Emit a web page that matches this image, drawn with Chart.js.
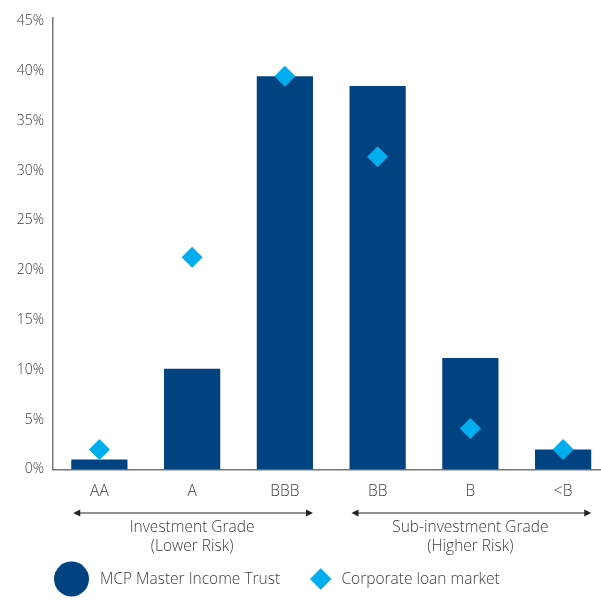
<!DOCTYPE html>
<html>
<head>
<meta charset="utf-8">
<script src="https://cdn.jsdelivr.net/npm/chart.js@4"></script>
<style>
html,body{margin:0;padding:0;background:#fff;overflow:hidden;}
#wrap{width:601px;height:600px;position:relative;overflow:hidden;}
#c{display:block;}
</style>
</head>
<body>
<div id="wrap"><canvas id="c" width="620" height="600" style="width:620px;height:600px"></canvas></div>
<script>
const categories = ['AA', 'A', 'BBB', 'BB', 'B', '<B'];
const mcpTrust = [1.0, 10.1, 39.5, 38.5, 11.2, 2.0];
const loanMarket = [2.0, 21.3, 39.5, 31.4, 4.1, 2.0];
const yTickValues = [0, 5, 10, 15, 20, 25, 30, 35, 40, 45];
const groupNames = [['Investment Grade', '(Lower Risk)'], ['Sub-investment Grade', '(Higher Risk)']];
const groupRanges = [[0, 2], [3, 5]];
const seriesNames = ['MCP Master Income Trust', 'Corporate loan market'];

const BAR = '#004381';
const DIA = '#00AEEF';
const TXT = '#3c3c3c';
const FONT = '"Open Sans", "Lato", sans-serif';
const FW = 300;
const FS = 14;
const FS2 = 15.5;

const overlay = {
  id: 'overlay',
  afterDraw(chart) {
    const ctx = chart.ctx;
    const xs = chart.scales.x;
    const meta = chart.getDatasetMeta(0);
    ctx.save();
    groupRanges.forEach((r, gi) => {
      const b0 = meta.data[r[0]], b1 = meta.data[r[1]];
      const x0 = b0.x - b0.width / 2 + 2;
      const x1 = b1.x + b1.width / 2;
      const y = 513;
      ctx.strokeStyle = '#222';
      ctx.fillStyle = '#222';
      ctx.lineWidth = 1;
      ctx.beginPath();
      ctx.moveTo(x0 + 3, y); ctx.lineTo(x1 - 3, y); ctx.stroke();
      ctx.beginPath();
      ctx.moveTo(x0, y); ctx.lineTo(x0 + 7, y - 3.5); ctx.lineTo(x0 + 7, y + 3.5); ctx.closePath(); ctx.fill();
      ctx.beginPath();
      ctx.moveTo(x1, y); ctx.lineTo(x1 - 7, y - 3.5); ctx.lineTo(x1 - 7, y + 3.5); ctx.closePath(); ctx.fill();
      const cx = xs.getPixelForValue((r[0] + r[1]) / 2);
      ctx.fillStyle = TXT;
      ctx.font = FW + ' ' + FS2 + 'px ' + FONT;
      ctx.textAlign = 'center';
      ctx.textBaseline = 'middle';
      groupNames[gi].forEach((t, li) => ctx.fillText(t, cx, 528 + li * 19));
    });
    ctx.fillStyle = BAR;
    ctx.beginPath(); ctx.arc(71.5, 579, 17.5, 0, Math.PI * 2); ctx.fill();
    ctx.fillStyle = DIA;
    ctx.beginPath();
    const dx = 320.7, dy = 579, dr = 10.7;
    ctx.moveTo(dx, dy - dr); ctx.lineTo(dx + dr, dy); ctx.lineTo(dx, dy + dr); ctx.lineTo(dx - dr, dy); ctx.closePath(); ctx.fill();
    ctx.fillStyle = TXT;
    ctx.font = FW + ' ' + FS2 + 'px ' + FONT;
    ctx.textAlign = 'left';
    ctx.textBaseline = 'middle';
    ctx.fillText(seriesNames[0], 100, 580);
    ctx.fillText(seriesNames[1], 341.5, 580);
    ctx.restore();
  }
};

new Chart(document.getElementById('c'), {
  data: {
    labels: categories,
    datasets: [
      {
        type: 'bar',
        label: seriesNames[0],
        data: mcpTrust,
        backgroundColor: BAR,
        borderWidth: 0,
        barPercentage: 0.606,
        categoryPercentage: 1,
        order: 2
      },
      {
        type: 'line',
        label: seriesNames[1],
        data: loanMarket,
        showLine: false,
        pointStyle: 'rectRot',
        pointRadius: 10.5,
        pointHoverRadius: 10.5,
        pointBackgroundColor: DIA,
        pointBorderWidth: 0,
        borderColor: DIA,
        order: 1
      }
    ]
  },
  options: {
    responsive: false,
    animation: false,
    events: [],
    layout: { padding: { top: 16, left: 0, right: 0, bottom: 86 } },
    plugins: { legend: { display: false }, tooltip: { enabled: false } },
    scales: {
      x: {
        offset: true,
        afterFit(s) { s.paddingLeft = 0; s.paddingRight = 0; },
        grid: { display: false, drawTicks: false },
        border: { display: true, color: '#777', width: 1.5 },
        ticks: { color: TXT, font: { family: FONT, size: FS2, weight: FW }, padding: 13, maxRotation: 0 }
      },
      y: {
        min: 0,
        max: 45.4,
        afterBuildTicks(s) { s.ticks = yTickValues.map(v => ({ value: v })); },
        afterFit(s) { s.width = 53; },
        grid: { display: false, drawTicks: false },
        border: { display: true, color: '#777', width: 1.5 },
        ticks: { color: TXT, font: { family: FONT, size: FS, weight: FW }, padding: 9, callback: v => v + '%' }
      }
    }
  },
  plugins: [overlay]
});
</script>
</body>
</html>
